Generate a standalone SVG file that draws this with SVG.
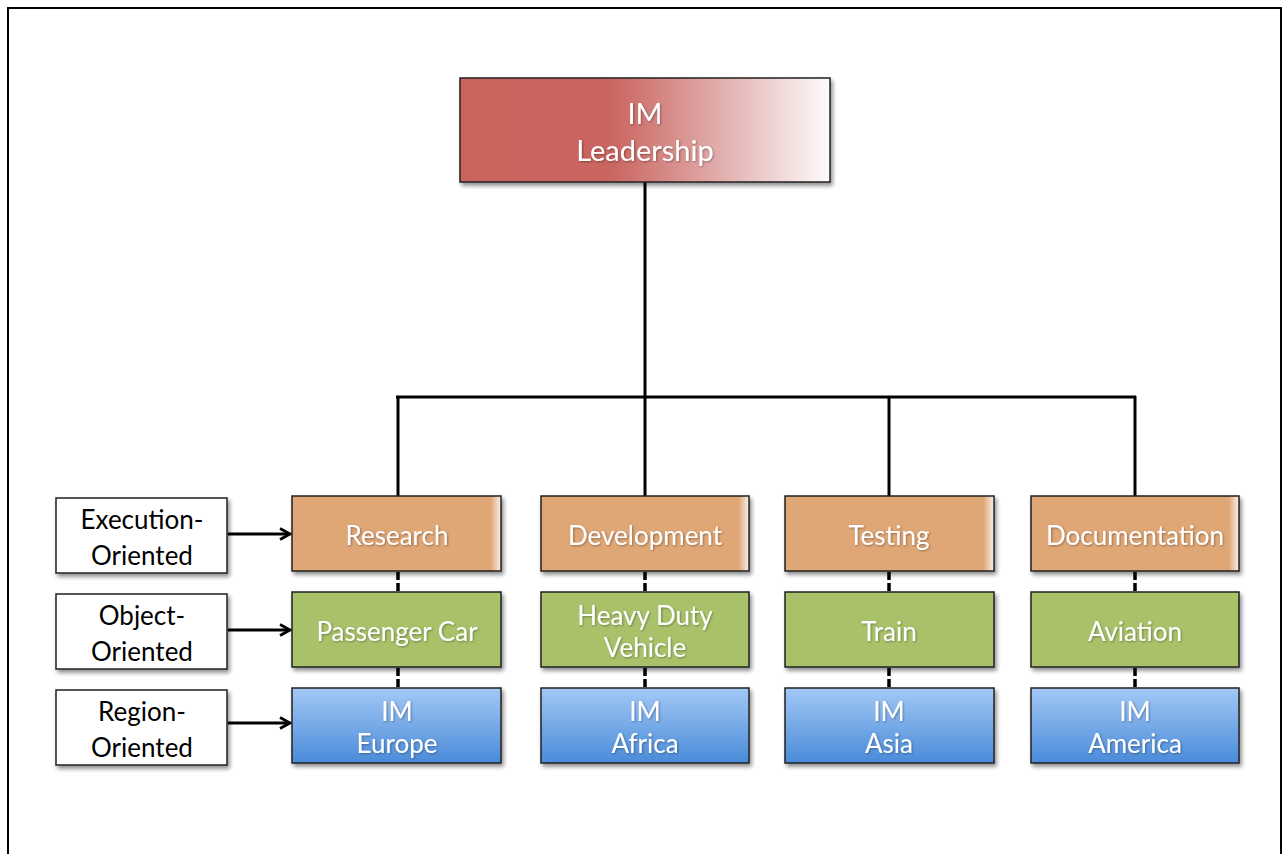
<svg xmlns="http://www.w3.org/2000/svg" width="1282" height="854" viewBox="0 0 1282 854">
<defs>
<linearGradient id="gRed" x1="0" y1="0" x2="1" y2="0">
<stop offset="0" stop-color="#c9635b"/>
<stop offset="0.41" stop-color="#ca6560"/>
<stop offset="0.7" stop-color="#e1adac"/>
<stop offset="1" stop-color="#fdfbfb"/>
</linearGradient>
<linearGradient id="gOrange" x1="0" y1="0" x2="1" y2="0">
<stop offset="0" stop-color="#dfa676"/>
<stop offset="0.95" stop-color="#dfa676"/>
<stop offset="1" stop-color="#fbf1ea"/>
</linearGradient>
<linearGradient id="gBlue" x1="0" y1="0" x2="0" y2="1">
<stop offset="0" stop-color="#a3c8f6"/>
<stop offset="1" stop-color="#4a8bd9"/>
</linearGradient>
<filter id="sh" x="-10%" y="-10%" width="125%" height="130%">
<feGaussianBlur in="SourceAlpha" stdDeviation="2"/>
<feOffset dx="2" dy="3" result="b"/>
<feComponentTransfer><feFuncA type="linear" slope="0.45"/></feComponentTransfer>
<feMerge><feMergeNode/><feMergeNode in="SourceGraphic"/></feMerge>
</filter>
<filter id="ts" x="-10%" y="-20%" width="120%" height="140%">
<feGaussianBlur in="SourceAlpha" stdDeviation="1"/>
<feOffset dx="1" dy="1"/>
<feComponentTransfer><feFuncA type="linear" slope="0.35"/></feComponentTransfer>
<feMerge><feMergeNode/><feMergeNode in="SourceGraphic"/></feMerge>
</filter>
<marker id="arr" viewBox="0 0 14 14" refX="12" refY="7" markerWidth="14" markerHeight="14" markerUnits="userSpaceOnUse" orient="auto">
<path d="M2,1.5 L12,7 L2,12.5" fill="none" stroke="#000" stroke-width="2.8"/>
</marker>
<style>
.box{stroke:#222;stroke-width:1.5;filter:url(#sh)}
.lbl{fill:#fff;stroke:#222;stroke-width:1.5;filter:url(#sh)}
.wt{font-family:Lato,"Open Sans","Liberation Sans",sans-serif;font-size:26px;fill:#fff;text-anchor:middle;filter:url(#ts)}
.big{font-size:29px}
.bt{font-family:Lato,"Open Sans","Liberation Sans",sans-serif;font-size:26px;fill:#000;text-anchor:middle}
.ln{stroke:#000;stroke-width:3;fill:none}
.dl{stroke:#000;stroke-width:3.5;fill:none;stroke-dasharray:8,3}
.ar{stroke:#000;stroke-width:3;fill:none;marker-end:url(#arr)}
</style>
</defs>
<rect x="0" y="0" width="1282" height="854" fill="#fff"/>
<path d="M8,860 L8,8 L1281,8 L1281,860" fill="none" stroke="#000" stroke-width="2"/>

<g id="connectors">
<line class="ln" x1="645" y1="182" x2="645" y2="496"/>
<line class="ln" x1="396" y1="397" x2="1136" y2="397"/>
<line class="ln" x1="398" y1="396" x2="398" y2="496"/>
<line class="ln" x1="889" y1="396" x2="889" y2="496"/>
<line class="ln" x1="1135" y1="396" x2="1135" y2="496"/>
<line class="dl" x1="398" y1="572" x2="398" y2="592"/>
<line class="dl" x1="645" y1="572" x2="645" y2="592"/>
<line class="dl" x1="889" y1="572" x2="889" y2="592"/>
<line class="dl" x1="1135" y1="572" x2="1135" y2="592"/>
<line class="dl" x1="398" y1="668" x2="398" y2="688"/>
<line class="dl" x1="645" y1="668" x2="645" y2="688"/>
<line class="dl" x1="889" y1="668" x2="889" y2="688"/>
<line class="dl" x1="1135" y1="668" x2="1135" y2="688"/>
<line class="ar" x1="228" y1="534" x2="290" y2="534"/>
<line class="ar" x1="228" y1="630" x2="290" y2="630"/>
<line class="ar" x1="228" y1="723" x2="290" y2="723"/>
</g>

<g id="leadership">
<rect class="box" x="460" y="78" width="370" height="104" fill="url(#gRed)"/>
<text class="wt big" x="645" y="124">IM</text>
<text class="wt big" x="645" y="161">Leadership</text>
</g>

<g id="label-execution">
<rect class="lbl" x="56" y="498" width="171" height="75"/>
<text class="bt" x="142" y="529">Execution-</text>
<text class="bt" x="142" y="565">Oriented</text>
</g>
<g id="label-object">
<rect class="lbl" x="56" y="594" width="171" height="75"/>
<text class="bt" x="142" y="625">Object-</text>
<text class="bt" x="142" y="661">Oriented</text>
</g>
<g id="label-region">
<rect class="lbl" x="56" y="690" width="171" height="75"/>
<text class="bt" x="142" y="721">Region-</text>
<text class="bt" x="142" y="757">Oriented</text>
</g>

<g id="research">
<rect class="box" x="292" y="496" width="209" height="75" fill="url(#gOrange)"/>
<text class="wt" x="397" y="545">Research</text>
</g>
<g id="development">
<rect class="box" x="541" y="496" width="208" height="75" fill="url(#gOrange)"/>
<text class="wt" x="645" y="545">Development</text>
</g>
<g id="testing">
<rect class="box" x="785" y="496" width="209" height="75" fill="url(#gOrange)"/>
<text class="wt" x="889" y="545">Testing</text>
</g>
<g id="documentation">
<rect class="box" x="1031" y="496" width="208" height="75" fill="url(#gOrange)"/>
<text class="wt" x="1135" y="545">Documentation</text>
</g>

<g id="passenger-car">
<rect class="box" x="292" y="592" width="209" height="75" fill="#a9c26a"/>
<text class="wt" x="397" y="641">Passenger Car</text>
</g>
<g id="heavy-duty">
<rect class="box" x="541" y="592" width="208" height="75" fill="#a9c26a"/>
<text class="wt" x="645" y="625">Heavy Duty</text>
<text class="wt" x="645" y="657">Vehicle</text>
</g>
<g id="train">
<rect class="box" x="785" y="592" width="209" height="75" fill="#a9c26a"/>
<text class="wt" x="889" y="641">Train</text>
</g>
<g id="aviation">
<rect class="box" x="1031" y="592" width="208" height="75" fill="#a9c26a"/>
<text class="wt" x="1135" y="641">Aviation</text>
</g>

<g id="im-europe">
<rect class="box" x="292" y="688" width="209" height="75" fill="url(#gBlue)"/>
<text class="wt" x="397" y="721">IM</text>
<text class="wt" x="397" y="753">Europe</text>
</g>
<g id="im-africa">
<rect class="box" x="541" y="688" width="208" height="75" fill="url(#gBlue)"/>
<text class="wt" x="645" y="721">IM</text>
<text class="wt" x="645" y="753">Africa</text>
</g>
<g id="im-asia">
<rect class="box" x="785" y="688" width="209" height="75" fill="url(#gBlue)"/>
<text class="wt" x="889" y="721">IM</text>
<text class="wt" x="889" y="753">Asia</text>
</g>
<g id="im-america">
<rect class="box" x="1031" y="688" width="208" height="75" fill="url(#gBlue)"/>
<text class="wt" x="1135" y="721">IM</text>
<text class="wt" x="1135" y="753">America</text>
</g>
</svg>
